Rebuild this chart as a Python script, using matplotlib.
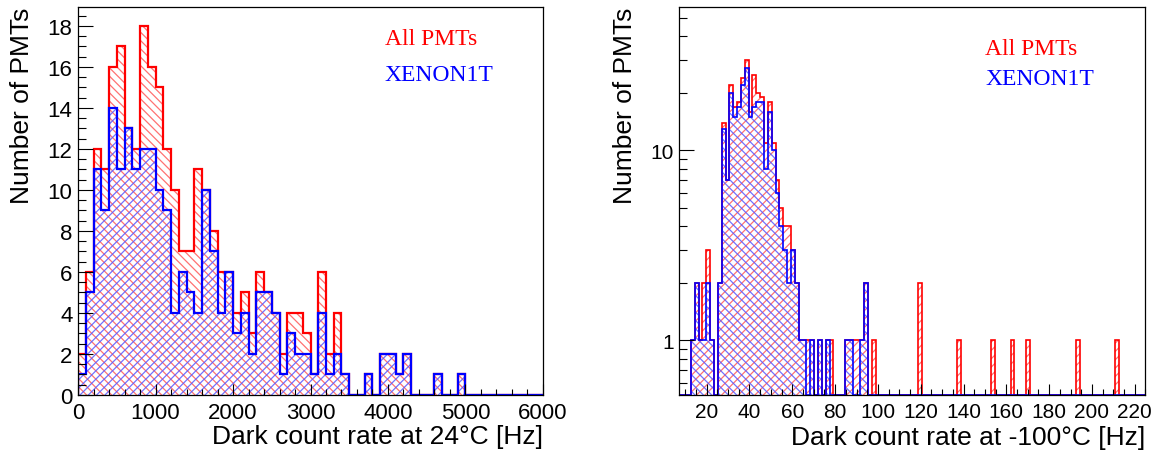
import matplotlib
matplotlib.use("Agg")
import matplotlib.pyplot as plt
import numpy as np
from matplotlib.ticker import FixedFormatter, FixedLocator, MultipleLocator, NullFormatter


# left panel: dark count rate at 24 C, 100 Hz bins from 0 to 6000 Hz
WARM_BIN_LO = 0.0
WARM_BIN_W = 100.0
WARM_ALL = [2, 6, 12, 11, 16, 17, 13, 12, 18, 16, 15, 12, 10, 7, 7, 11, 10, 8, 6, 6,
            4, 5, 3, 6, 5, 4, 2, 4, 4, 3, 1, 6, 2, 4, 1, 0, 0, 1, 0, 2,
            2, 1, 2, 0, 0, 0, 1, 0, 0, 1, 0, 0, 0, 0, 0, 0, 0, 0, 0, 0]
WARM_X1T = [1, 5, 11, 9, 14, 11, 13, 11, 12, 12, 10, 9, 4, 6, 5, 4, 10, 7, 4, 6,
            3, 4, 2, 5, 5, 4, 1, 3, 2, 2, 1, 4, 1, 2, 1, 0, 0, 1, 0, 2,
            2, 1, 2, 0, 0, 0, 1, 0, 0, 1, 0, 0, 0, 0, 0, 0, 0, 0, 0, 0]

# right panel: dark count rate at -100 C, 1.8 Hz bins from 7.2 to 225 Hz
COLD_BIN_LO = 7.2
COLD_BIN_W = 1.8
COLD_ALL = [0, 0, 0, 1, 2, 1, 2, 3, 1, 0,
            2, 14, 7, 22, 17, 18, 24, 30, 16, 25,
            20, 19, 11, 18, 11, 7, 5, 4, 4, 3,
            2, 1, 1, 1, 1, 0, 1, 0, 1, 1,
            0, 0, 0, 1, 1, 1, 1, 1, 2, 0,
            1, 0, 0, 0, 0, 0, 0, 0, 0, 0,
            0, 0, 2, 0, 0, 0, 0, 0, 0, 0,
            0, 0, 1, 0, 0, 0, 0, 0, 0, 0,
            0, 1, 0, 0, 0, 0, 1, 0, 0, 0,
            1, 0, 0, 0, 0, 0, 0, 0, 0, 0,
            0, 0, 0, 1, 0, 0, 0, 0, 0, 0,
            0, 0, 0, 1, 0, 0, 0, 0, 0, 0,
            0]
COLD_X1T = [0, 0, 0, 1, 2, 1, 1, 2, 1, 0,
            2, 13, 7, 20, 15, 17, 22, 27, 15, 17,
            18, 18, 8, 16, 10, 6, 4, 3, 2, 3,
            2, 1, 1, 0, 1, 0, 1, 0, 1, 0,
            0, 0, 0, 1, 1, 0, 0, 1, 2, 0,
            0, 0, 0, 0, 0, 0, 0, 0, 0, 0,
            0, 0, 0, 0, 0, 0, 0, 0, 0, 0,
            0, 0, 0, 0, 0, 0, 0, 0, 0, 0,
            0, 0, 0, 0, 0, 0, 0, 0, 0, 0,
            0, 0, 0, 0, 0, 0, 0, 0, 0, 0,
            0, 0, 0, 0, 0, 0, 0, 0, 0, 0,
            0, 0, 0, 0, 0, 0, 0, 0, 0, 0,
            0]

LEGEND = ["All PMTs", "XENON1T"]

SANS = "Liberation Sans"
SERIF = "Liberation Serif"
RED_HATCH = (1.0, 0.35, 0.35, 0.85)
BLUE_HATCH = (0.35, 0.35, 1.0, 0.85)

plt.rcParams["hatch.linewidth"] = 0.9


def edges_for(lo: float, width: float, n: int) -> np.ndarray:
    return lo + width * np.arange(n + 1)


def draw_hist(ax, counts, edges, base, color, hatch_color, hatch, lw):
    counts = np.asarray(counts, dtype=float)
    shown = np.where(counts > 0, counts, base)
    ax.stairs(shown, edges, baseline=base, fill=True, facecolor="none",
              edgecolor=hatch_color, hatch=hatch, linewidth=0)
    ax.stairs(shown, edges, baseline=base, color=color, linewidth=lw)


def style_axes(ax, labelsize):
    for side in ("top", "right", "left", "bottom"):
        ax.spines[side].set_linewidth(0.9)
    ax.tick_params(axis="both", which="both", direction="in", top=False, right=False,
                   width=0.8, labelsize=labelsize)
    ax.tick_params(axis="x", which="major", length=8, pad=5)
    ax.tick_params(axis="x", which="minor", length=4)
    ax.tick_params(axis="y", which="major", length=11, pad=4)
    ax.tick_params(axis="y", which="minor", length=5.5)
    for label in ax.get_xticklabels() + ax.get_yticklabels():
        label.set_fontfamily(SANS)


def set_labels(ax, xlabel, ylabel_x):
    ax.set_xlabel(xlabel, fontsize=19, family=SANS, ha="right", va="center")
    ax.xaxis.set_label_coords(1.0, -0.106)
    ax.set_ylabel("Number of PMTs", fontsize=19, family=SANS, va="center")
    ax.yaxis.set_label_coords(ylabel_x, 0.748)


def plot_warm(ax):
    edges = edges_for(WARM_BIN_LO, WARM_BIN_W, len(WARM_ALL))
    draw_hist(ax, WARM_ALL, edges, 0.0, "red", RED_HATCH, "\\\\\\\\", 1.6)
    draw_hist(ax, WARM_X1T, edges, 0.0, "blue", BLUE_HATCH, "////", 1.6)

    ax.set_xlim(0, 6000)
    ax.set_ylim(0, 18.9)
    ax.xaxis.set_major_locator(MultipleLocator(1000))
    ax.xaxis.set_minor_locator(MultipleLocator(200))
    ax.yaxis.set_major_locator(MultipleLocator(2))
    ax.yaxis.set_minor_locator(MultipleLocator(0.5))
    style_axes(ax, 16)
    set_labels(ax, "Dark count rate at 24°C [Hz]", -0.12)

    ax.text(0.66, 0.919, LEGEND[0], color="red", fontsize=17, family=SERIF,
            transform=ax.transAxes, va="center")
    ax.text(0.66, 0.828, LEGEND[1], color="blue", fontsize=17, family=SERIF,
            transform=ax.transAxes, va="center")


def plot_cold(ax):
    edges = edges_for(COLD_BIN_LO, COLD_BIN_W, len(COLD_ALL))
    ymin, ymax = 0.513, 56.5
    ax.set_yscale("log")
    draw_hist(ax, COLD_ALL, edges, ymin, "red", RED_HATCH, "////", 1.2)
    draw_hist(ax, COLD_X1T, edges, ymin, "blue", BLUE_HATCH, "\\\\\\\\", 1.2)

    ax.set_xlim(edges[0], edges[-1])
    ax.set_ylim(ymin, ymax)
    ax.xaxis.set_major_locator(FixedLocator(np.arange(20, 221, 20)))
    ax.xaxis.set_minor_locator(MultipleLocator(5))
    ax.yaxis.set_major_locator(FixedLocator([1, 10]))
    minor = [m * 10.0 ** k for k in (-1, 0, 1) for m in range(2, 10)]
    ax.yaxis.set_minor_locator(FixedLocator(minor))
    ax.yaxis.set_major_formatter(FixedFormatter(["1", "10"]))
    ax.yaxis.set_minor_formatter(NullFormatter())
    style_axes(ax, 15)
    set_labels(ax, "Dark count rate at -100°C [Hz]", -0.116)

    ax.text(0.656, 0.893, LEGEND[0], color="red", fontsize=17, family=SERIF,
            transform=ax.transAxes, va="center")
    ax.text(0.656, 0.816, LEGEND[1], color="blue", fontsize=17, family=SERIF,
            transform=ax.transAxes, va="center")


def main() -> None:
    fig = plt.figure(figsize=(11.56, 4.56), dpi=100)
    ax_warm = fig.add_axes([0.0675, 0.1316, 0.4022, 0.8498])
    ax_cold = fig.add_axes([0.5876, 0.1305, 0.4033, 0.8509])
    plot_warm(ax_warm)
    plot_cold(ax_cold)
    fig.savefig("out.png", dpi=100, facecolor="white")


if __name__ == "__main__":
    main()
